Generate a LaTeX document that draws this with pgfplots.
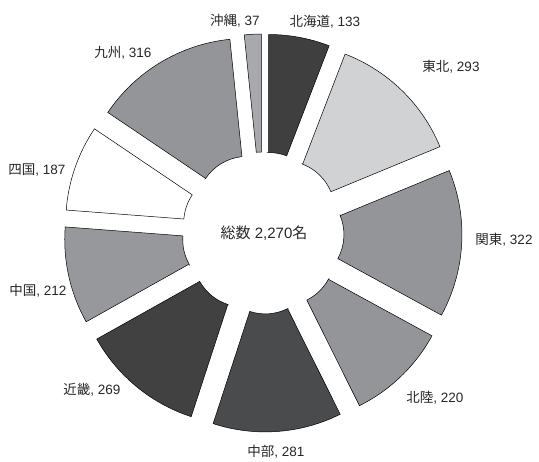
\documentclass[border=0pt]{standalone}
\usepackage{fontspec}
\setmainfont{Liberation Sans}
\newfontfamily\cjk{Noto Sans CJK JP}
\usepackage{pgfplots}
\usepackage{pgfplotstable}
\pgfplotsset{compat=1.18}
\definecolor{cHok}{HTML}{3F3F3F}
\definecolor{cToh}{HTML}{D1D2D4}
\definecolor{cKan}{HTML}{939598}
\definecolor{cHkr}{HTML}{939598}
\definecolor{cChb}{HTML}{4A4B4D}
\definecolor{cKin}{HTML}{414142}
\definecolor{cChg}{HTML}{97989B}
\definecolor{cShi}{HTML}{FFFFFF}
\definecolor{cKyu}{HTML}{939598}
\definecolor{cOki}{HTML}{A7A9AC}
\pgfplotstableread[col sep=comma]{
name,value,col,lx,ly
北海道,133,cHok,325,22
東北,293,cToh,451,67
関東,322,cKan,504,240
北陸,220,cHkr,435,398
中部,281,cChb,276,452
近畿,269,cKin,92,390
中国,212,cChg,38,291
四国,187,cShi,37,170
九州,316,cKyu,123,53
沖縄,37,cOki,235,21
}\datatable
\begin{document}
\begin{tikzpicture}
\begin{axis}[
  x=1bp, y=1bp,
  xmin=0, xmax=539, ymin=0, ymax=462,
  hide axis, clip=false,
]
\addplot[draw=none, forget plot] coordinates {(0,0) (539,462)};
\def\cx{263}
\def\cy{229}
\def\Rout{168}
\def\Rin{50}
\def\dd{31}
\def\cum{0}
\pgfplotsforeachungrouped \i in {0,...,9}{%
  \pgfplotstablegetelem{\i}{value}\of\datatable \let\v\pgfplotsretval
  \pgfplotstablegetelem{\i}{name}\of\datatable \let\nm\pgfplotsretval
  \pgfplotstablegetelem{\i}{col}\of\datatable \let\cl\pgfplotsretval
  \pgfplotstablegetelem{\i}{lx}\of\datatable \let\lx\pgfplotsretval
  \pgfplotstablegetelem{\i}{ly}\of\datatable \let\ly\pgfplotsretval
  \pgfmathsetmacro\aO{90-\cum/2270*360}%
  \pgfmathsetmacro\cum{\cum+\v}%
  \pgfmathsetmacro\aI{90-\cum/2270*360}%
  \pgfmathsetmacro\bb{(\aO+\aI)/2}%
  \pgfmathsetmacro\ox{\cx+\dd*cos(\bb)}%
  \pgfmathsetmacro\oy{\cy+\dd*sin(\bb)}%
  \pgfmathsetmacro\xa{\ox+\Rin*cos(\aO)}%
  \pgfmathsetmacro\ya{\oy+\Rin*sin(\aO)}%
  \pgfmathsetmacro\xb{\ox+\Rout*cos(\aO)}%
  \pgfmathsetmacro\yb{\oy+\Rout*sin(\aO)}%
  \pgfmathsetmacro\xc{\ox+\Rin*cos(\aI)}%
  \pgfmathsetmacro\yc{\oy+\Rin*sin(\aI)}%
  \pgfmathsetmacro\lyy{462-\ly}%
  \edef\temp{\noexpand\filldraw[fill=\cl, draw=black, line width=0.5pt, line join=miter]
    (axis cs:\xa,\ya) -- (axis cs:\xb,\yb)
    arc[start angle=\aO, end angle=\aI, radius=\Rout bp]
    -- (axis cs:\xc,\yc)
    arc[start angle=\aI, end angle=\aO, radius=\Rin bp] -- cycle;
    \noexpand\node[font=\noexpand\fontsize{13.5bp}{16bp}\noexpand\selectfont, text=black!85, inner sep=0pt]
      at (axis cs:\lx,\lyy) {{\noexpand\cjk \nm}, \v};}%
  \temp
}
\node[font=\fontsize{15bp}{18bp}\selectfont, text=black!85, inner sep=0pt] at (axis cs:264,229) {{\cjk 総数} 2,270{\cjk 名}};
\end{axis}
\end{tikzpicture}
\end{document}
